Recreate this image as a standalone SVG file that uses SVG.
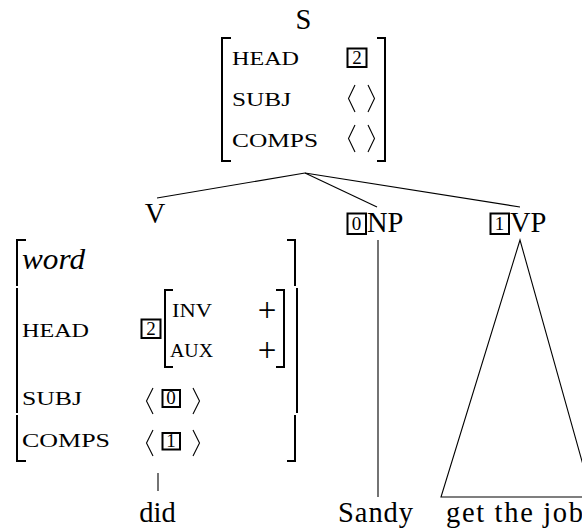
<svg xmlns="http://www.w3.org/2000/svg" width="582" height="531" viewBox="0 0 582 531">
<style>
.big{font-family:"Liberation Serif","Times New Roman",serif;font-size:28.5px;fill:#000}
.it{font-family:"Liberation Serif","Times New Roman",serif;font-size:28.5px;font-style:italic;fill:#000}
.sc{font-family:"Liberation Serif","Times New Roman",serif;font-size:18px;fill:#000}
.dig{font-family:"Liberation Serif","Times New Roman",serif;font-size:19px;fill:#000;text-anchor:middle}
.plus{font-family:"Liberation Serif","Times New Roman",serif;font-size:33px;fill:#000;text-anchor:middle}
.brk{fill:none;stroke:#000;stroke-width:2}
.box{fill:none;stroke:#000;stroke-width:2}
.ang{fill:none;stroke:#000;stroke-width:1.1}
.edge{fill:none;stroke:#000;stroke-width:1.1}
</style>
<rect width="582" height="531" fill="#fff"/>

<g id="connectors">
  <line class="edge" x1="305" y1="173" x2="157" y2="198"/>
  <line class="edge" x1="305" y1="173" x2="377" y2="207"/>
  <line class="edge" x1="305" y1="173" x2="520" y2="207"/>
  <line class="edge" x1="158" y1="473" x2="158" y2="491"/>
  <line class="edge" x1="378" y1="240" x2="378" y2="497"/>
  <path class="edge" d="M520 240 L441 497 L592 497 Z"/>
</g>

<g id="node-S">
  <text class="big" x="303.5" y="29" text-anchor="middle">S</text>
  <path class="brk" d="M231 38 H222 V161 H231"/>
  <path class="brk" d="M377 38 H385 V161 H377"/>
  <text class="sc" x="232" y="65" textLength="67" lengthAdjust="spacingAndGlyphs">HEAD</text>
  <rect class="box" x="347.5" y="48.5" width="19" height="18.5"/>
  <text class="dig" x="357" y="63.5">2</text>
  <text class="sc" x="232" y="106" textLength="59" lengthAdjust="spacingAndGlyphs">SUBJ</text>
  <polyline class="ang" points="355,85 348.5,98.5 355,112"/>
  <polyline class="ang" points="368,85 374.5,98.5 368,112"/>
  <text class="sc" x="232" y="147" textLength="86" lengthAdjust="spacingAndGlyphs">COMPS</text>
  <polyline class="ang" points="355,125 348.5,138.5 355,152"/>
  <polyline class="ang" points="368,125 374.5,138.5 368,152"/>
</g>

<g id="node-V">
  <text class="big" x="155" y="223" text-anchor="middle">V</text>
  <path class="brk" d="M26 240 H17 V286"/>
  <path class="brk" d="M17 288 V413"/>
  <path class="brk" d="M17 415 V461 H26"/>
  <path class="brk" d="M287 240 H295 V286"/>
  <path class="brk" d="M297 288 V413"/>
  <path class="brk" d="M295 415 V461 H287"/>
  <text class="it" x="22" y="269" textLength="63" lengthAdjust="spacingAndGlyphs">word</text>
  <text class="sc" x="22" y="337" textLength="67" lengthAdjust="spacingAndGlyphs">HEAD</text>
  <rect class="box" x="141.5" y="319.5" width="19" height="18.5"/>
  <text class="dig" x="151" y="334.5">2</text>
  <path class="brk" d="M173 290 H165 V367 H173"/>
  <path class="brk" d="M276 290 H284 V367 H276"/>
  <text class="sc" x="172" y="317" textLength="40" lengthAdjust="spacingAndGlyphs">INV</text>
  <text class="plus" x="267" y="321">+</text>
  <text class="sc" x="170" y="357" textLength="43" lengthAdjust="spacingAndGlyphs">AUX</text>
  <text class="plus" x="267" y="361">+</text>
  <text class="sc" x="22" y="405" textLength="60" lengthAdjust="spacingAndGlyphs">SUBJ</text>
  <polyline class="ang" points="153,388 146.5,401 153,414"/>
  <polyline class="ang" points="193,388 199.5,401 193,414"/>
  <rect class="box" x="162.5" y="390" width="17.5" height="17"/>
  <text class="dig" x="171" y="404">0</text>
  <text class="sc" x="22" y="447" textLength="88" lengthAdjust="spacingAndGlyphs">COMPS</text>
  <polyline class="ang" points="153,430 146.5,443 153,456"/>
  <polyline class="ang" points="193,430 199.5,443 193,456"/>
  <rect class="box" x="162.5" y="433" width="17.5" height="16.5"/>
  <text class="dig" x="171" y="446.5">1</text>
</g>

<g id="node-NP">
  <rect class="box" x="347.5" y="213.5" width="18.5" height="20.5"/>
  <text class="dig" x="356.5" y="230">0</text>
  <text class="big" x="367" y="232">NP</text>
</g>

<g id="node-VP">
  <rect class="box" x="490.5" y="213.5" width="18.5" height="20.5"/>
  <text class="dig" x="499.5" y="230">1</text>
  <text class="big" x="510" y="232">VP</text>
</g>

<g id="leaf-did">
  <text class="big" x="157.5" y="522" text-anchor="middle">did</text>
</g>
<g id="leaf-Sandy">
  <text class="big" x="338" y="522" textLength="75" lengthAdjust="spacing">Sandy</text>
</g>
<g id="leaf-get-the-job">
  <text class="big" x="446" y="522" textLength="137" lengthAdjust="spacing">get the job</text>
</g>
</svg>
